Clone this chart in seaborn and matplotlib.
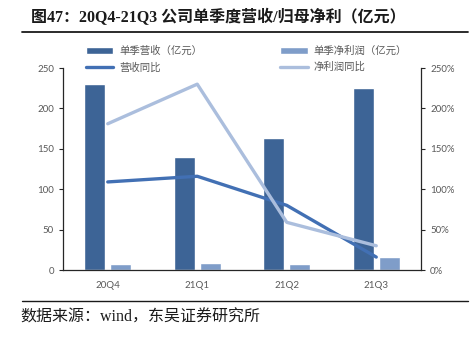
import matplotlib
matplotlib.use("Agg")
import matplotlib.pyplot as plt
import matplotlib.ticker as mticker
from matplotlib.lines import Line2D
from matplotlib.patches import Patch
import seaborn as sns
import pandas as pd

quarters = ["20Q4", "21Q1", "21Q2", "21Q3"]
revenue = [230, 140, 163, 225]          # 单季营收（亿元）
net_profit = [8, 9, 7, 16]              # 单季净利润（亿元）
revenue_yoy = [109, 116, 80, 16]        # 营收同比 (%)
profit_yoy = [181, 230, 59, 30]         # 净利润同比 (%)

lbl_rev = "单季营收（亿元）"
lbl_np = "单季净利润（亿元）"
lbl_rev_yoy = "营收同比"
lbl_np_yoy = "净利润同比"

c_rev = "#3d6496"
c_np = "#7f9dc9"
c_rev_line = "#4270b4"
c_np_line = "#abbedd"
grey = "#595959"

sns.set_theme(style="white")
plt.rcParams["font.family"] = ["Lato", "Noto Sans CJK SC", "DejaVu Sans"]

bars = pd.DataFrame({
    "q": quarters * 2,
    "v": revenue + net_profit,
    "s": [lbl_rev] * 4 + [lbl_np] * 4,
})
lines = pd.DataFrame({
    "q": quarters * 2,
    "v": revenue_yoy + profit_yoy,
    "s": [lbl_rev_yoy] * 4 + [lbl_np_yoy] * 4,
})

fig = plt.figure(figsize=(4.72, 3.37), dpi=100)
ax = fig.add_axes([63 / 472, 1 - 270 / 337, (421 - 63) / 472, (270 - 68) / 337])

sns.barplot(data=bars, x="q", y="v", hue="s", palette=[c_rev, c_np],
            width=0.58, gap=0.2, ax=ax, legend=False, saturation=1)
ax.set_ylim(0, 250)
ax.set_xlim(-0.5, 3.5)
ax.set_yticks([0, 50, 100, 150, 200, 250])
ax.set_xlabel("")
ax.set_ylabel("")

ax2 = ax.twinx()
sns.lineplot(data=lines, x="q", y="v", hue="s", palette=[c_rev_line, c_np_line],
             linewidth=2.4, ax=ax2, legend=False, sort=False)
ax2.set_ylim(0, 250)
ax2.set_yticks([0, 50, 100, 150, 200, 250])
ax2.yaxis.set_major_formatter(mticker.FuncFormatter(lambda v, p: f"{int(v)}%"))
ax2.set_xlabel("")
ax2.set_ylabel("")
ax2.set_xlim(-0.5, 3.5)

for a in (ax, ax2):
    a.spines["top"].set_visible(False)
    for s in ("left", "right", "bottom"):
        a.spines[s].set_color("#262626")
        a.spines[s].set_linewidth(0.9)
    a.tick_params(axis="y", colors=grey, labelsize=7, length=3, width=0.8, direction="out")
    a.tick_params(axis="y", color="#262626")
    a.tick_params(axis="x", colors=grey, labelsize=7, length=0, pad=8)
ax.spines["right"].set_visible(False)
ax2.spines["left"].set_visible(False)
ax2.spines["bottom"].set_visible(False)

handles = [
    Patch(facecolor=c_rev, label=lbl_rev),
    Line2D([], [], color=c_rev_line, lw=2.4, label=lbl_rev_yoy),
    Patch(facecolor=c_np, label=lbl_np),
    Line2D([], [], color=c_np_line, lw=2.4, label=lbl_np_yoy),
]
leg = fig.legend(handles=handles, ncol=2, loc="upper left",
                 bbox_to_anchor=(86 / 472, 1 - 46 / 337), frameon=False,
                 fontsize=7.5, handlelength=2.6, handleheight=0.55,
                 handletextpad=0.6, columnspacing=7.5, labelspacing=0.55,
                 borderpad=0, borderaxespad=0)
for t in leg.get_texts():
    t.set_color(grey)

fig.text(31 / 472, 1 - 18 / 337, "图47：20Q4-21Q3 公司单季度营收/归母净利（亿元）",
         fontsize=11.5, fontweight="bold", color="#1a1a1a", va="center", ha="left",
         family=["Liberation Serif", "Noto Sans CJK SC"])
fig.add_artist(Line2D([22 / 472, 468 / 472], [1 - 32 / 337, 1 - 32 / 337],
                      color="#1a1a1a", lw=1.3))
fig.add_artist(Line2D([22 / 472, 468 / 472], [1 - 301 / 337, 1 - 301 / 337],
                      color="#1a1a1a", lw=1.0))
fig.text(20 / 472, 1 - 318 / 337, "数据来源：wind，东吴证券研究所",
         fontsize=11.5, color="#1a1a1a", va="center", ha="left",
         family=["Liberation Serif", "Noto Sans CJK SC"])

fig.savefig("out.png", dpi=100)
